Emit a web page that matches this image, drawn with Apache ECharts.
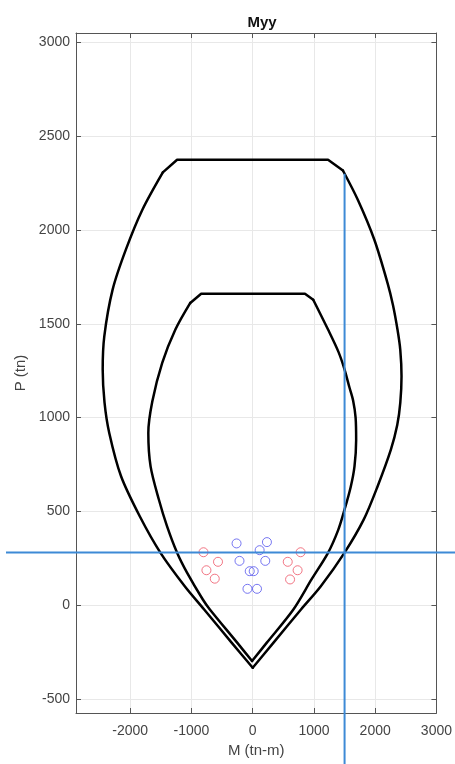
<!DOCTYPE html>
<html>
<head>
<meta charset="utf-8">
<script src="https://cdn.jsdelivr.net/npm/echarts@6/dist/echarts.min.js"></script>
<style>
  html, body { margin: 0; padding: 0; background: #fff; }
  #chart { width: 455px; height: 764px; }
</style>
</head>
<body>
<div id="chart"></div>
<script>
// Interaction diagram (P–M) for the Myy direction, units tn and tn-m.
// Each capacity curve is kept as: right flank (bottom vertex -> cap), flat cap with
// its chamfers, and left flank (cap -> bottom vertex). Flanks are drawn smooth,
// the cap with straight segments so its corners stay sharp.

// Outer capacity curve
const outerRightM = [0, 340, 788, 1112, 1500, 1814, 2040, 2256, 2360, 2410, 2430, 2410, 2364, 2290, 2202, 1986, 1716, 1473];
const outerRightP = [-334, -200, -23, 101, 280, 457, 634, 829, 960, 1080, 1220, 1360, 1469, 1600, 1717, 1948, 2161, 2317];
const outerCapM = [1473, 1230, -1235, -1468];
const outerCapP = [2317, 2374, 2374, 2307];
const outerLeftM = [-1468, -1802, -2072, -2288, -2424, -2450, -2420, -2343, -2150, -1845, -1506, -1110, -793, -345, 0];
const outerLeftP = [2307, 2108, 1895, 1682, 1433, 1256, 1080, 918, 687, 474, 279, 101, -23, -200, -334];

// Inner (reduced) capacity curve
const innerRightM = [-11, 230, 664, 960, 1230, 1395, 1500, 1600, 1662, 1689, 1680, 1640, 1580, 1500, 1400, 1230, 988];
const innerRightP = [-298, -200, -23, 137, 279, 400, 510, 630, 740, 880, 1000, 1090, 1160, 1256, 1350, 1469, 1628];
const innerCapM = [988, 853, -842, -1020];
const innerCapP = [1628, 1660, 1660, 1611];
const innerLeftM = [-1020, -1263, -1478, -1640, -1705, -1668, -1533, -1400, -1235, -1073, -815, -700, -254, -11];
const innerLeftP = [1611, 1469, 1291, 1085, 918, 740, 563, 421, 279, 173, 30, -23, -200, -298];

// Demand points
const blueM = [-264, 232, 113, -216, 205, -49, 16, -86, 70];
const blueP = [329, 336, 293, 236, 236, 181, 181, 87, 87];
const redM = [-804, 782, -567, 572, -756, 733, -620, 610];
const redP = [282, 282, 231, 231, 186, 186, 141, 137];

// Reference cross-hair
const crossM = 1500;
const crossP = 280;
const crossTopP = 2300;

// Axis ranges and tick labels
const xMin = -2886, xMax = 3000;
const yMin = -575, yMax = 3050;
const xTicks = [-2000, -1000, 0, 1000, 2000, 3000];
const yTicks = [-500, 0, 500, 1000, 1500, 2000, 2500, 3000];

const zip = (a, b) => a.map((v, i) => [v, b[i]]);

const FONT = 'Liberation Sans, Arial, sans-serif';
const frameColor = '#555';
const labelColor = '#444';
const plain = v => String(v);

function axisCommon(ticks) {
  return {
    type: 'value',
    axisLine: { show: true, onZero: false, lineStyle: { color: frameColor, width: 1 } },
    axisTick: { show: true, inside: true, length: 5, customValues: ticks, lineStyle: { color: frameColor } },
    axisLabel: { show: true, customValues: ticks, formatter: plain, color: labelColor, fontFamily: FONT, fontSize: 14 },
    splitLine: { show: true, lineStyle: { color: '#e8e8e8', width: 1 } }
  };
}

function curve(m, p, smooth) {
  return {
    type: 'line', data: zip(m, p), xAxisIndex: 0, yAxisIndex: 0,
    symbol: 'none', smooth: smooth, lineStyle: { color: '#000', width: 2.5, cap: 'round', join: 'round' }, z: 3
  };
}

const chart = echarts.init(document.getElementById('chart'), null, { renderer: 'canvas' });

const option = {
  backgroundColor: '#fff',
  animation: false,
  title: {
    text: 'Myy', left: 257, top: 10, textAlign: 'center',
    textStyle: { fontFamily: FONT, fontSize: 15, fontWeight: 'bold', color: '#111' }
  },
  grid: { left: 76, right: 17, top: 33, bottom: 51, containLabel: false },
  xAxis: [
    Object.assign(axisCommon(xTicks), {
      min: xMin, max: xMax, position: 'bottom',
      name: 'M (tn-m)', nameLocation: 'middle', nameGap: 22,
      nameTextStyle: { fontFamily: FONT, fontSize: 15, color: labelColor },
      axisLabel: { show: true, customValues: xTicks, formatter: plain, color: labelColor, fontFamily: FONT, fontSize: 14, margin: 11 }
    }),
    Object.assign(axisCommon(xTicks), {
      min: xMin, max: xMax, position: 'top',
      axisLabel: { show: false }, splitLine: { show: false }
    })
  ],
  yAxis: [
    Object.assign(axisCommon(yTicks), {
      min: yMin, max: yMax, position: 'left',
      name: 'P (tn)', nameLocation: 'middle', nameGap: 42,
      nameTextStyle: { fontFamily: FONT, fontSize: 15, color: labelColor },
      axisLabel: { show: true, customValues: yTicks, formatter: plain, color: labelColor, fontFamily: FONT, fontSize: 14, margin: 6 }
    }),
    Object.assign(axisCommon(yTicks), {
      min: yMin, max: yMax, position: 'right',
      axisLabel: { show: false }, splitLine: { show: false }
    })
  ],
  series: [
    curve(outerRightM, outerRightP, 0.3),
    curve(outerCapM, outerCapP, false),
    curve(outerLeftM, outerLeftP, 0.3),
    curve(innerRightM, innerRightP, 0.3),
    curve(innerCapM, innerCapP, false),
    curve(innerLeftM, innerLeftP, 0.3),
    {
      type: 'scatter', data: zip(redM, redP), xAxisIndex: 0, yAxisIndex: 0,
      symbol: 'circle', symbolSize: 9,
      itemStyle: { color: 'rgba(0,0,0,0)', borderColor: '#ee5566', borderWidth: 1 }, z: 4
    },
    {
      type: 'scatter', data: zip(blueM, blueP), xAxisIndex: 0, yAxisIndex: 0,
      symbol: 'circle', symbolSize: 9,
      itemStyle: { color: 'rgba(0,0,0,0)', borderColor: '#5555ee', borderWidth: 1 }, z: 4
    }
  ]
};

chart.setOption(option);

// Cross-hair lines run past the plot frame, so they are placed as graphics
// from the pixel positions of their data values.
const W = chart.getWidth(), H = chart.getHeight();
const pCross = chart.convertToPixel({ xAxisIndex: 0, yAxisIndex: 0 }, [crossM, crossP]);
const pTop = chart.convertToPixel({ xAxisIndex: 0, yAxisIndex: 0 }, [crossM, crossTopP]);
const blue = '#3d8ad6';
chart.setOption({
  graphic: [
    { type: 'line', z: 100, shape: { x1: 6, y1: pCross[1], x2: W, y2: pCross[1] }, style: { stroke: blue, lineWidth: 2 } },
    { type: 'line', z: 100, shape: { x1: pCross[0], y1: pTop[1], x2: pCross[0], y2: H }, style: { stroke: blue, lineWidth: 2 } }
  ]
});
</script>
</body>
</html>
